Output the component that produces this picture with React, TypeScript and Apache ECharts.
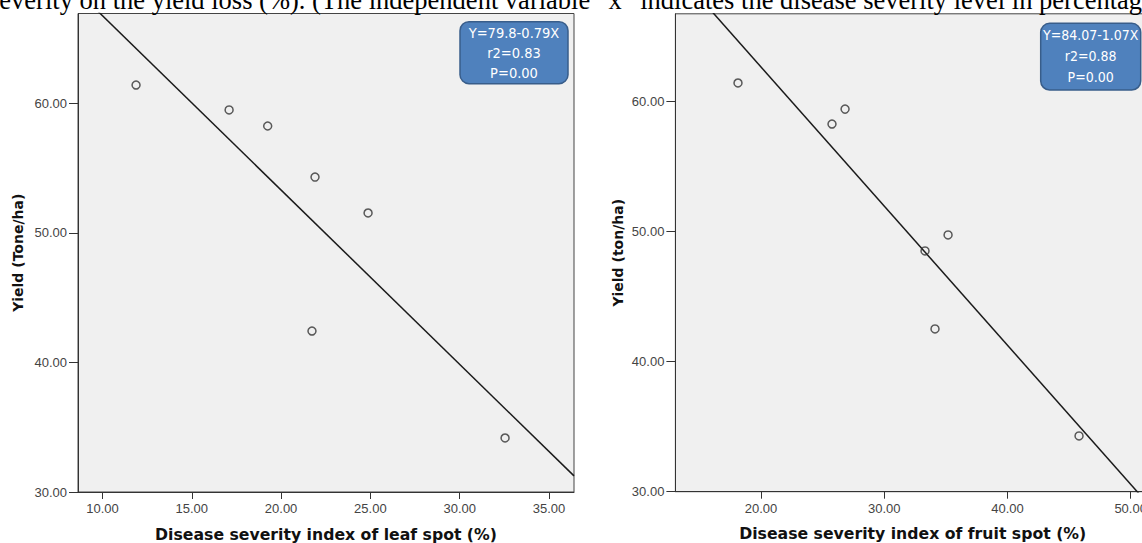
import React, { useEffect, useRef } from "react";
import * as echarts from "echarts";

// Caption fragment visible at the top of the figure
const captionText =
  "severity on the yield loss (%). (The independent variable \u201cx\u201d indicates the disease severity level in percentage";

// Left panel: leaf spot
const leafX = [11.88, 17.09, 19.25, 21.9, 24.87, 21.73, 32.54];
const leafY = [61.4, 59.48, 58.24, 54.3, 51.53, 42.42, 34.17];
const leafFit = { intercept: 80.2, slope: -1.345 }; // drawn fit line
const leafBox = ["Y=79.8-0.79X", "r2=0.83", "P=0.00"];
const leafXTicks = [10, 15, 20, 25, 30, 35];
const leafXTitle = "Disease severity index of leaf spot (%)";
const leafYTitle = "Yield (Tone/ha)";

// Right panel: fruit spot
const fruitX = [18.13, 25.76, 26.82, 33.31, 35.18, 34.12, 45.81];
const fruitY = [61.44, 58.28, 59.43, 48.52, 49.75, 42.52, 34.29];
const fruitFit = { intercept: 84.07, slope: -1.07 };
const fruitBox = ["Y=84.07-1.07X", "r2=0.88", "P=0.00"];
const fruitXTicks = [20, 30, 40, 50];
const fruitXTitle = "Disease severity index of fruit spot (%)";
const fruitYTitle = "Yield (ton/ha)";

const yTicks = [30, 40, 50, 60];

const LEFT_X_RANGE = [8.63, 36.4];
const LEFT_Y_RANGE = [30, 66.92];
const RIGHT_X_RANGE = [13.05, 51.57];
const RIGHT_Y_RANGE = [30, 66.76];

const AXIS_COLOR = "#333";
const LABEL_FONT = "'Liberation Sans', Arial, sans-serif";
const TITLE_FONT = "'DejaVu Sans', Verdana, sans-serif";
const BOX_FONT = "'Liberation Sans Narrow', 'DejaVu Sans Condensed', sans-serif";

function makeXAxis(gridIndex: number, range: number[], ticks: number[], name: string) {
  return {
    type: "value",
    gridIndex,
    min: range[0],
    max: range[1],
    name,
    nameLocation: "middle",
    nameGap: 34,
    nameTextStyle: { fontFamily: TITLE_FONT, fontWeight: "bold", fontSize: 15.7, color: "#111" },
    axisLine: { show: true, onZero: false, lineStyle: { color: AXIS_COLOR, width: 1 } },
    axisTick: { show: true, length: 7, customValues: ticks, lineStyle: { color: AXIS_COLOR } },
    axisLabel: {
      customValues: ticks,
      formatter: (v: number) => v.toFixed(2),
      margin: 10,
      fontSize: 13,
      color: "#444",
      fontFamily: LABEL_FONT,
    },
    splitLine: { show: false },
  };
}

function makeYAxis(gridIndex: number, range: number[], name: string, gap: number, fs: number) {
  return {
    type: "value",
    gridIndex,
    min: range[0],
    max: range[1],
    name,
    nameLocation: "middle",
    nameGap: gap,
    nameTextStyle: { fontFamily: TITLE_FONT, fontWeight: "bold", fontSize: fs, color: "#111" },
    axisLine: { show: true, onZero: false, lineStyle: { color: AXIS_COLOR, width: 1 } },
    axisTick: { show: true, length: 9, customValues: yTicks, lineStyle: { color: AXIS_COLOR } },
    axisLabel: {
      customValues: yTicks,
      formatter: (v: number) => v.toFixed(2),
      margin: 11,
      fontSize: 13,
      color: "#444",
      fontFamily: LABEL_FONT,
    },
    splitLine: { show: false },
  };
}

function zip(xs: number[], ys: number[]) {
  return xs.map((x, i) => [x, ys[i]]);
}

function fitLine(fit: { intercept: number; slope: number }, range: number[]) {
  return range.map((x) => [x, fit.intercept + fit.slope * x]);
}

function scatterSeries(idx: number, data: number[][]) {
  return {
    type: "scatter",
    xAxisIndex: idx,
    yAxisIndex: idx,
    data,
    symbol: "circle",
    symbolSize: 8,
    itemStyle: { color: "rgba(255,255,255,0)", borderColor: "#333", borderWidth: 1.5 },
    z: 3,
  };
}

function lineSeries(idx: number, data: number[][]) {
  return {
    type: "line",
    xAxisIndex: idx,
    yAxisIndex: idx,
    data,
    symbol: "none",
    clip: true,
    lineStyle: { color: "#1a1a1a", width: 1.5 },
    z: 2,
  };
}

function boxGraphic(x: number, y: number, w: number, h: number, lines: string[], lineGap: number, fs: number) {
  const cx = x + w / 2;
  return {
    type: "group",
    children: [
      {
        type: "rect",
        shape: { x, y, width: w, height: h, r: 9 },
        style: { fill: "#4f81bd", stroke: "#385d8a", lineWidth: 1.5 },
      },
      ...lines.map((t, i) => ({
        type: "text",
        x: cx,
        y: y + 11.5 + i * lineGap,
        style: {
          text: t,
          fill: "#ffffff",
          font: `${fs}px ${BOX_FONT}`,
          align: "center",
          verticalAlign: "middle",
        },
      })),
    ],
  };
}

export default function App() {
  const ref = useRef<HTMLDivElement>(null);
  useEffect(() => {
    if (!ref.current) return;
    const chart = echarts.init(ref.current, null, { renderer: "svg" });
    const option = {
      animation: false,
      backgroundColor: "#ffffff",
      grid: [
        {
          left: 78,
          top: 13.5,
          width: 496,
          height: 478.5,
          show: true,
          backgroundColor: "#f0f0f0",
          borderColor: "#444",
          borderWidth: 1,
          containLabel: false,
          outerBoundsMode: "none",
        },
        {
          left: 675.4,
          top: 13.8,
          width: 474.6,
          height: 477.9,
          show: true,
          backgroundColor: "#f0f0f0",
          borderColor: "#444",
          borderWidth: 1,
          containLabel: false,
          outerBoundsMode: "none",
        },
      ],
      xAxis: [
        makeXAxis(0, LEFT_X_RANGE, leafXTicks, leafXTitle),
        makeXAxis(1, RIGHT_X_RANGE, fruitXTicks, fruitXTitle),
      ],
      yAxis: [
        makeYAxis(0, LEFT_Y_RANGE, leafYTitle, 53, 14),
        makeYAxis(1, RIGHT_Y_RANGE, fruitYTitle, 50, 14),
      ],
      series: [
        lineSeries(0, fitLine(leafFit, LEFT_X_RANGE)),
        scatterSeries(0, zip(leafX, leafY)),
        lineSeries(1, fitLine(fruitFit, RIGHT_X_RANGE)),
        scatterSeries(1, zip(fruitX, fruitY)),
      ],
      graphic: [
        {
          type: "text",
          x: -11,
          y: -0.5,
          style: {
            text: captionText,
            fill: "#000",
            font: "26.5px 'Liberation Serif', 'Times New Roman', serif",
            align: "left",
            verticalAlign: "middle",
          },
        },
        boxGraphic(460, 21.7, 108, 62, leafBox, 20, 14.5),
        boxGraphic(1040.7, 23.3, 100, 66.7, fruitBox, 21, 14),
      ],
    };
    chart.setOption(option as any);
    return () => chart.dispose();
  }, []);
  return (
    <div
      ref={ref}
      style={{ position: "fixed", left: 0, top: 0, width: 1142, height: 543 }}
    />
  );
}
